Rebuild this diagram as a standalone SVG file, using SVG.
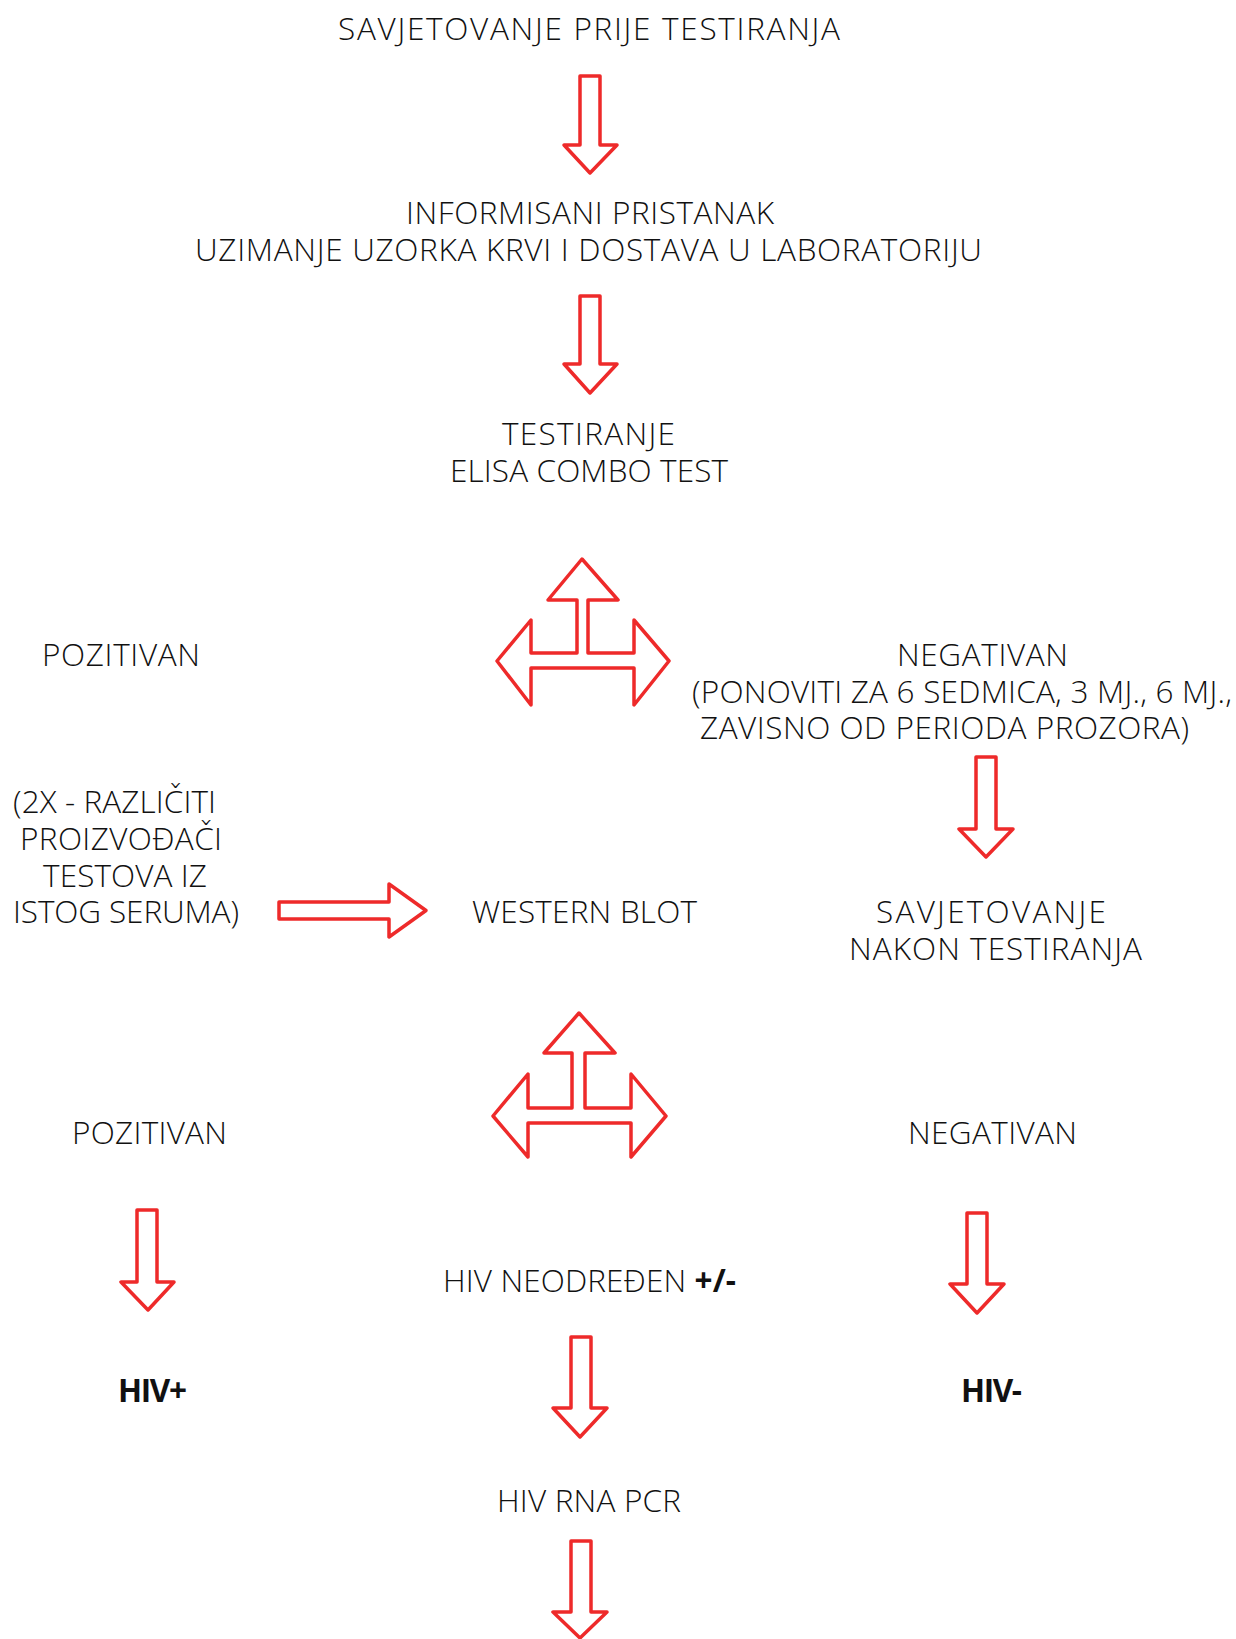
<svg xmlns="http://www.w3.org/2000/svg" width="1236" height="1639" viewBox="0 0 1236 1639">
<style>
.t{font-family:"Open Sans","Liberation Sans",sans-serif;font-weight:300;font-size:31.5px;fill:#111;}
.b{font-weight:700;}
.ar{fill:none;stroke:#ee2a2a;stroke-width:3.5;stroke-linejoin:round;}
</style>
<rect width="1236" height="1639" fill="#fff"/>
<g id="connectors">
<path class="ar" d="M580 76 H600 V145 H617 L590 173 L564 145 H580 Z"/>
<path class="ar" d="M580 296 H600 V364 H617 L590 393 L564 364 H580 Z"/>
<path class="ar" d="M582 559 L618 600 L588 600 L588 653 L634 653 L634 620 L669 661 L634 705 L634 668 L531 668 L531 705 L497 661 L531 620 L531 653 L577 653 L577 600 L548 600 Z"/>
<path class="ar" d="M976 757 H996 V829 H1013 L986 857 L959 829 H976 Z"/>
<path class="ar" d="M279 902 H389 V884 L426 910.5 L389 937 V919 H279 Z"/>
<path class="ar" d="M579 1013 L615 1053 L585 1053 L585 1108 L631 1108 L631 1074 L666 1116 L631 1157 L631 1123 L528 1123 L528 1157 L493 1116 L528 1074 L528 1108 L572 1108 L572 1053 L544 1053 Z"/>
<path class="ar" d="M137 1210 H157 V1282 H174 L148 1310 L121 1282 H137 Z"/>
<path class="ar" d="M967 1213 H987 V1284 H1004 L977 1313 L950 1284 H967 Z"/>
<path class="ar" d="M571 1337 H591 V1408 H607 L580 1437 L553 1408 H571 Z"/>
<path class="ar" d="M571 1541 H591 V1612 H607 L580 1638 L553 1612 H571 Z"/>
</g>
<g id="n-savjetovanje-prije"><text class="t" x="338" y="40" textLength="502" lengthAdjust="spacing">SAVJETOVANJE PRIJE TESTIRANJA</text></g>
<g id="n-informisani">
<text class="t" x="406" y="224" textLength="368" lengthAdjust="spacing">INFORMISANI PRISTANAK</text>
<text class="t" x="195" y="261" textLength="787" lengthAdjust="spacing">UZIMANJE UZORKA KRVI I DOSTAVA U LABORATORIJU</text>
</g>
<g id="n-testiranje">
<text class="t" x="502" y="445" textLength="173" lengthAdjust="spacing">TESTIRANJE</text>
<text class="t" x="450" y="482" textLength="278" lengthAdjust="spacing">ELISA COMBO TEST</text>
</g>
<g id="n-pozitivan1"><text class="t" x="42" y="666" textLength="158" lengthAdjust="spacing">POZITIVAN</text></g>
<g id="n-negativan1">
<text class="t" x="897" y="666" textLength="171" lengthAdjust="spacing">NEGATIVAN</text>
<text class="t" x="692" y="703" textLength="540" lengthAdjust="spacing">(PONOVITI ZA 6 SEDMICA, 3 MJ., 6 MJ.,</text>
<text class="t" x="700" y="739" textLength="489" lengthAdjust="spacing">ZAVISNO OD PERIODA PROZORA)</text>
</g>
<g id="n-2x">
<text class="t" x="13" y="813" textLength="203" lengthAdjust="spacing">(2X - RAZLIČITI</text>
<text class="t" x="20" y="850" textLength="202" lengthAdjust="spacing">PROIZVOĐAČI</text>
<text class="t" x="43" y="887" textLength="164" lengthAdjust="spacing">TESTOVA IZ</text>
<text class="t" x="13" y="923" textLength="226" lengthAdjust="spacing">ISTOG SERUMA)</text>
</g>
<g id="n-western"><text class="t" x="472" y="923" textLength="225" lengthAdjust="spacing">WESTERN BLOT</text></g>
<g id="n-savjetovanje-nakon">
<text class="t" x="876" y="923" textLength="230" lengthAdjust="spacing">SAVJETOVANJE</text>
<text class="t" x="849" y="960" textLength="293" lengthAdjust="spacing">NAKON TESTIRANJA</text>
</g>
<g id="n-pozitivan2"><text class="t" x="72" y="1144" textLength="155" lengthAdjust="spacing">POZITIVAN</text></g>
<g id="n-negativan2"><text class="t" x="908" y="1144" textLength="169" lengthAdjust="spacing">NEGATIVAN</text></g>
<g id="n-neodredjen"><text class="t" x="443" y="1292" textLength="293" lengthAdjust="spacing">HIV NEODREĐEN <tspan class="b">+/-</tspan></text></g>
<g id="n-hivplus"><text class="t b" x="118" y="1402" textLength="69" lengthAdjust="spacing">HIV+</text></g>
<g id="n-hivminus"><text class="t b" x="961" y="1402" textLength="61" lengthAdjust="spacing">HIV-</text></g>
<g id="n-rnapcr"><text class="t" x="497" y="1512" textLength="184" lengthAdjust="spacing">HIV RNA PCR</text></g>
</svg>
